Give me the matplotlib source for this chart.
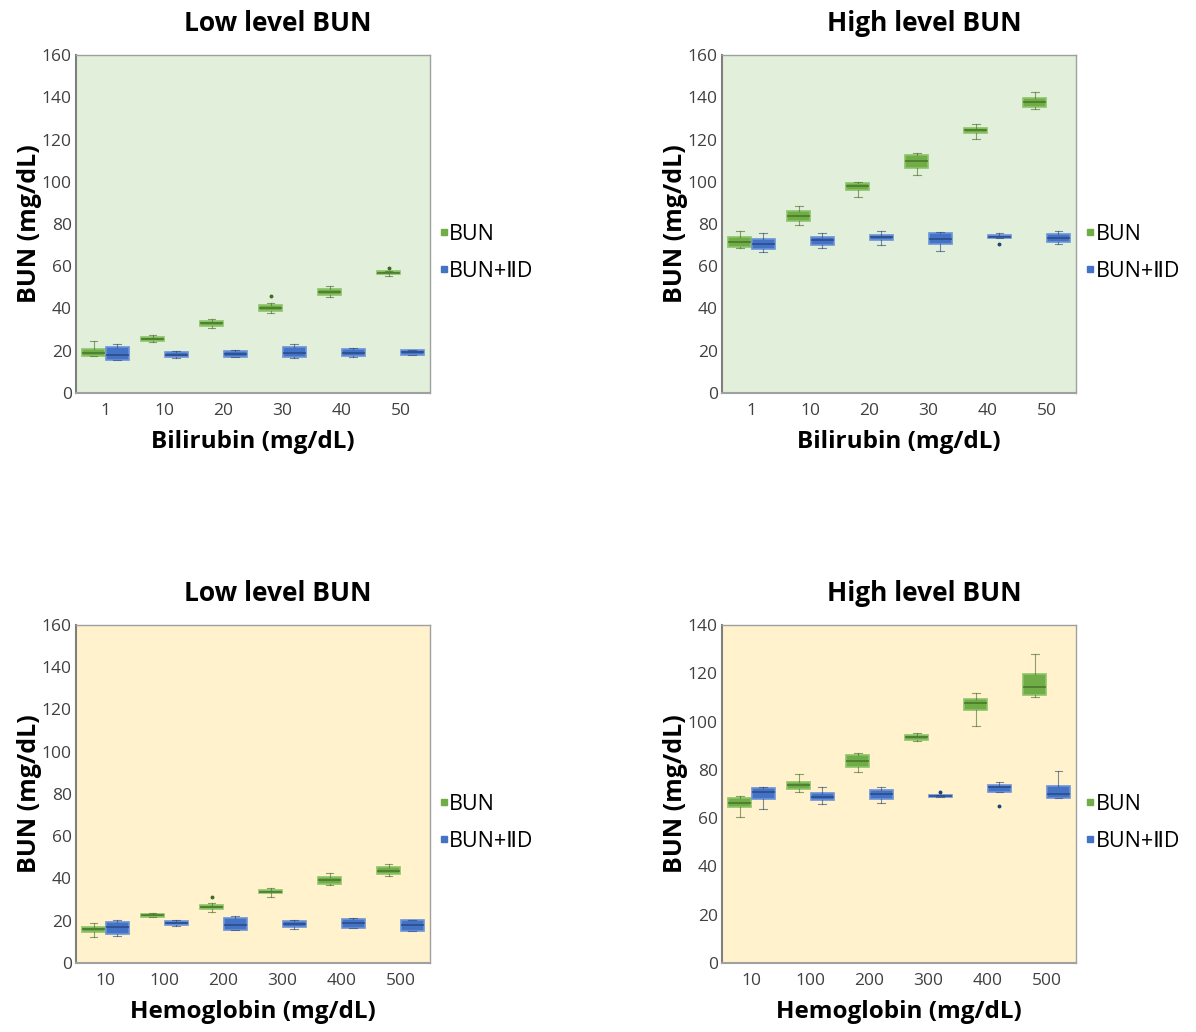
import matplotlib
matplotlib.use('Agg')
from matplotlib import pyplot as plt
from matplotlib.lines import Line2D

plt.rcParams['font.family'] = ['Open Sans', 'DejaVu Sans']

# categories
bil_labels = ['1', '10', '20', '30', '40', '50']
hb_labels = ['10', '100', '200', '300', '400', '500']

# (whisker low, q1, median, q3, whisker high) per category
bil_low_bun = [(17.5, 17.7, 19.1, 20.7, 24.6), (24.3, 24.8, 25.7, 26.5, 27.3),
               (30.9, 31.7, 33.0, 34.1, 34.9), (37.7, 39.0, 40.4, 41.7, 42.4),
               (45.6, 46.2, 47.8, 49.2, 50.8), (55.5, 56.3, 57.0, 57.6, 57.8)]
bil_low_iid = [(15.5, 15.8, 18.0, 21.8, 23.0), (16.6, 16.9, 18.1, 19.4, 19.9),
               (17.0, 17.0, 18.6, 19.9, 20.5), (16.7, 16.9, 19.1, 21.9, 23.0),
               (17.0, 17.4, 19.1, 21.0, 21.5), (17.8, 18.1, 19.3, 20.2, 20.4)]
bil_low_fliers = {'bun': [[], [], [], [45.8], [], [59.0]], 'iid': [[]] * 6}

bil_high_bun = [(68.5, 69.3, 71.5, 74.0, 76.8), (79.5, 81.6, 83.9, 86.2, 88.4),
                (92.9, 96.1, 97.8, 99.3, 100.0), (103.2, 106.5, 109.8, 112.7, 113.8),
                (120.2, 122.9, 124.3, 125.6, 127.2), (134.3, 135.4, 137.6, 139.8, 142.3)]
bil_high_iid = [(66.9, 68.2, 70.4, 72.8, 75.6), (68.5, 70.1, 72.3, 74.0, 75.9),
                (70.1, 72.4, 73.7, 74.9, 76.5), (67.2, 70.4, 72.9, 75.6, 76.0),
                (73.2, 73.2, 74.0, 74.9, 75.6), (70.4, 71.6, 73.5, 75.3, 76.5)]
bil_high_fliers = {'bun': [[]] * 6, 'iid': [[], [], [], [], [70.7], []]}

hb_low_bun = [(12.2, 14.5, 16.0, 17.2, 18.8), (21.6, 21.9, 22.6, 23.0, 23.7),
              (24.1, 25.4, 26.5, 27.6, 28.3), (31.1, 33.0, 33.8, 34.7, 35.4),
              (36.9, 37.6, 39.3, 40.9, 42.5), (41.3, 42.0, 43.7, 45.6, 47.0)]
hb_low_iid = [(12.8, 13.6, 17.2, 19.6, 20.2), (17.5, 17.8, 18.8, 19.7, 20.2),
              (15.6, 15.6, 18.0, 21.1, 22.1), (16.2, 16.9, 18.5, 20.0, 20.4),
              (16.4, 16.4, 18.8, 21.0, 21.3), (15.3, 15.3, 17.8, 20.2, 20.2)]
hb_low_fliers = {'bun': [[], [], [31.1], [], [], []], 'iid': [[]] * 6}

hb_high_bun = [(60.4, 64.5, 66.2, 68.2, 69.3), (70.7, 72.1, 73.7, 75.1, 78.1),
               (79.0, 81.1, 83.8, 86.0, 87.1), (92.1, 92.5, 93.5, 94.3, 95.4),
               (98.2, 104.8, 107.6, 109.2, 111.8), (110.2, 111.2, 114.2, 119.6, 128.0)]
hb_high_iid = [(63.7, 68.1, 70.7, 72.4, 73.0), (65.7, 67.4, 68.6, 70.3, 73.0),
               (66.2, 67.8, 70.0, 71.5, 73.0), (68.8, 68.8, 69.2, 69.4, 69.4),
               (70.7, 70.7, 73.0, 73.7, 75.1), (68.2, 68.5, 70.0, 73.4, 79.4)]
hb_high_fliers = {'bun': [[]] * 6, 'iid': [[], [], [], [70.7], [65.0], []]}

green = '#70AD47'
blue = '#4472C4'


def stats(rows, fliers):
    out = []
    for (lo, q1, med, q3, hi), fl in zip(rows, fliers):
        out.append(dict(whislo=lo, q1=q1, med=med, q3=q3, whishi=hi, fliers=fl))
    return out


def draw(ax, bun, iid, fliers, labels, xlabel, ymax, bg):
    ax.set_facecolor(bg)
    n = len(labels)
    for rows, fl, off, face, edge, dark in [
            (bun, fliers['bun'], -0.2, green, '#8CC46A', '#3E6B25'),
            (iid, fliers['iid'], 0.2, blue, '#6C93D8', '#23427A')]:
        ax.bxp(stats(rows, fl), positions=[i + off for i in range(n)],
               widths=0.39, patch_artist=True, showfliers=True,
               boxprops=dict(facecolor=face, edgecolor=edge, linewidth=1.2),
               medianprops=dict(color=dark, linewidth=1.1, alpha=0.85),
               whiskerprops=dict(color=dark, linewidth=0.8, alpha=0.6),
               capprops=dict(color=dark, linewidth=0.8, alpha=0.6),
               capwidths=0.13,
               flierprops=dict(marker='o', markersize=1.8,
                               markerfacecolor=dark, markeredgecolor=dark))
    ax.set_xlim(-0.5, n - 0.5)
    ax.set_xticks(range(n))
    ax.set_xticklabels(labels)
    ax.set_ylim(0, ymax)
    ax.set_yticks(range(0, ymax + 1, 20))
    ax.tick_params(length=0, labelsize=12.5, labelcolor='#404040')
    ax.tick_params(axis='y', pad=3)
    ax.tick_params(axis='x', pad=7)
    for s in ax.spines.values():
        s.set_color('#A0A0A0')
        s.set_linewidth(1)
    ax.spines['left'].set_color('#7F7F7F')
    ax.spines['left'].set_linewidth(1.5)
    ax.spines['bottom'].set_linewidth(1.5)
    ax.set_xlabel(xlabel, fontsize=17.5, fontweight='bold', labelpad=8)
    ax.set_ylabel('BUN (mg/dL)', fontsize=18, fontweight='bold', labelpad=0)
    handles = [Line2D([], [], linestyle='none', marker='s', markersize=4,
                      color=green, label='BUN'),
               Line2D([], [], linestyle='none', marker='s', markersize=4,
                      color=blue, label='BUN+ⅡD')]
    ax.legend(handles=handles, loc='center left', bbox_to_anchor=(1.0, 0.415),
              frameon=False, fontsize=15.5, handlelength=0.3, handletextpad=0.1,
              labelspacing=0.75, borderaxespad=0.1)


fig = plt.figure(figsize=(11.96, 10.32), dpi=100)
w, h = 0.296, 0.3275
ax1 = fig.add_axes([0.0635, 0.6192, w, h])
ax2 = fig.add_axes([0.6037, 0.6192, w, h])
ax3 = fig.add_axes([0.0635, 0.0669, w, h])
ax4 = fig.add_axes([0.6037, 0.0669, w, h])

green_bg = '#E2EFDA'
yellow_bg = '#FFF2CC'
draw(ax1, bil_low_bun, bil_low_iid, bil_low_fliers, bil_labels,
     'Bilirubin (mg/dL)', 160, green_bg)
draw(ax2, bil_high_bun, bil_high_iid, bil_high_fliers, bil_labels,
     'Bilirubin (mg/dL)', 160, green_bg)
draw(ax3, hb_low_bun, hb_low_iid, hb_low_fliers, hb_labels,
     'Hemoglobin (mg/dL)', 160, yellow_bg)
draw(ax4, hb_high_bun, hb_high_iid, hb_high_fliers, hb_labels,
     'Hemoglobin (mg/dL)', 140, yellow_bg)

for ax, t in [(ax1, 'Low level BUN'), (ax2, 'High level BUN'),
              (ax3, 'Low level BUN'), (ax4, 'High level BUN')]:
    ax.set_title(t, fontsize=19, fontweight='bold', pad=17, x=0.57)

fig.savefig('out.png', dpi=100)
